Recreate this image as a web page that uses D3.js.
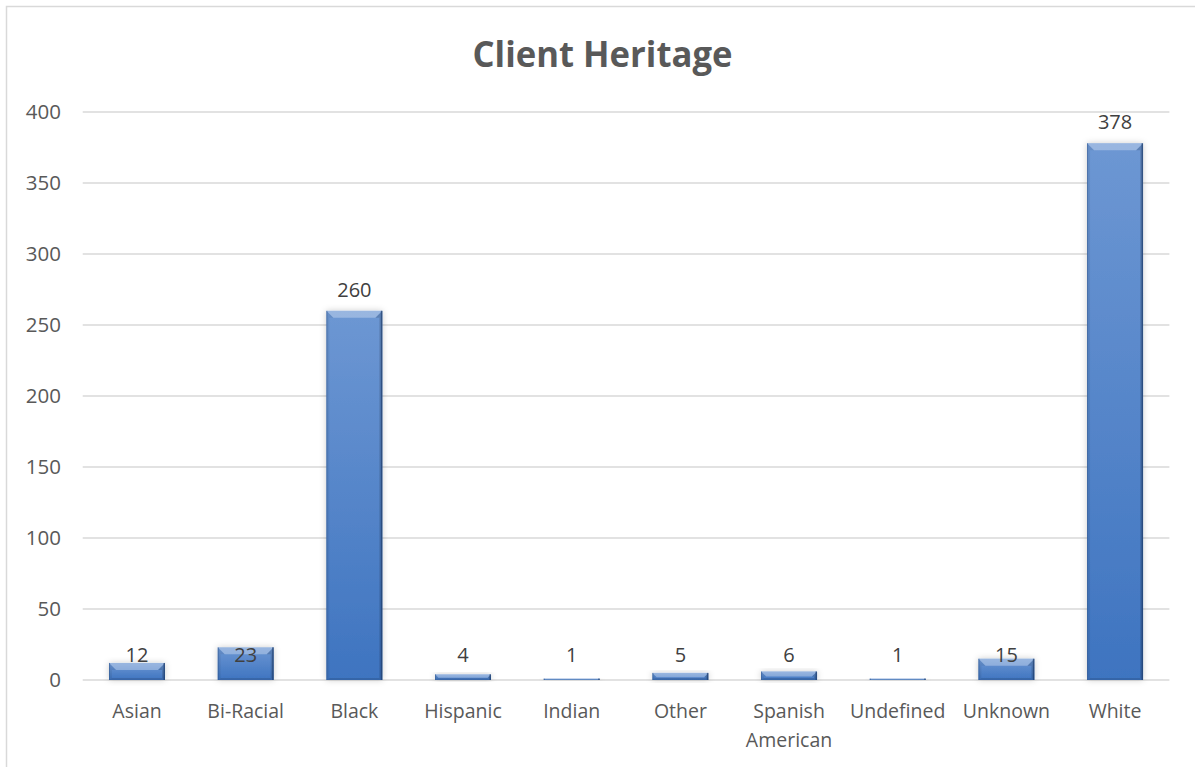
<!DOCTYPE html>
<html>
<head>
<meta charset="utf-8">
<script src="https://cdn.jsdelivr.net/npm/d3@7"></script>
<style>
body { margin: 0; background: #fff; }
</style>
</head>
<body>
<div id="chart"></div>
<script>
var categories = ["Asian", "Bi-Racial", "Black", "Hispanic", "Indian", "Other", "Spanish American", "Undefined", "Unknown", "White"]
var counts = [12, 23, 260, 4, 1, 5, 6, 1, 15, 378]
var yTicks = [0, 50, 100, 150, 200, 250, 300, 350, 400]

var wd = 1195
var ht = 767
var plotL = 82.7, plotR = 1169.4
var plotT = 112, plotB = 680
var txtCol = "#595959"
var font = "'Open Sans', sans-serif"

var svg = d3.select("#chart").append("svg")
  .attr("width", wd)
  .attr("height", ht)

var defs = svg.append("defs")
var grad = defs.append("linearGradient")
  .attr("id", "barGrad")
  .attr("x1", 0).attr("y1", 0).attr("x2", 0).attr("y2", 1)
grad.append("stop").attr("offset", "0%").attr("stop-color", "#6d97d3")
grad.append("stop").attr("offset", "100%").attr("stop-color", "#3e74c0")

var shadow = defs.append("filter").attr("id", "shadow")
  .attr("x", "-30%").attr("y", "-30%").attr("width", "160%").attr("height", "160%")
shadow.append("feDropShadow")
  .attr("dx", 0).attr("dy", 0)
  .attr("stdDeviation", 3)
  .attr("flood-color", "#000")
  .attr("flood-opacity", 0.2)

// chart frame
svg.append("rect")
  .attr("x", 6.5).attr("y", 6.5)
  .attr("width", 1250).attr("height", 850)
  .attr("fill", "none")
  .attr("stroke", "#d9d9d9")
  .attr("stroke-width", 1.5)

// title
svg.append("text")
  .attr("x", 602.5)
  .attr("y", 67)
  .attr("text-anchor", "middle")
  .attr("font-family", font)
  .attr("font-weight", "bold")
  .attr("font-size", 36)
  .attr("textLength", 260)
  .attr("lengthAdjust", "spacingAndGlyphs")
  .attr("fill", txtCol)
  .text("Client Heritage")

var x = d3.scaleBand()
  .domain(categories)
  .range([plotL, plotR])
  .paddingInner(0.485)
  .paddingOuter(0.2425)

var y = d3.scaleLinear()
  .domain([0, 400])
  .range([plotB, plotT])

// gridlines
svg.append("g").selectAll("line")
  .data(yTicks)
  .enter().append("line")
  .attr("x1", plotL).attr("x2", plotR)
  .attr("y1", function(d) { return y(d) }).attr("y2", function(d) { return y(d) })
  .attr("stroke", "#d9d9d9")
  .attr("stroke-width", 1.5)

// y axis labels
var yAxis = d3.axisLeft(y).tickValues(yTicks).tickSize(0).tickPadding(0)
var yAx = svg.append("g")
  .attr("transform", "translate(61,0)")
  .call(yAxis)
yAx.select(".domain").remove()
yAx.selectAll("text")
  .attr("font-family", font)
  .attr("font-size", 20.5)
  .attr("fill", txtCol)

// bars with bevel
var bars = svg.append("g").selectAll("g.bar")
  .data(counts)
  .enter().append("g")
  .attr("class", "bar")
  .attr("filter", "url(#shadow)")

function pts(a) { return a.map(function(p) { return p.join(",") }).join(" ") }

bars.each(function(d, i) {
  var g = d3.select(this)
  var x0 = x(categories[i]), x1 = x0 + x.bandwidth()
  var y0 = y(d), y1 = y(0)
  var h = y1 - y0
  var bt = Math.min(7, h * 0.6)   // top bevel
  var bs = Math.min(3, h * 0.4)   // side bevel
  var bb = Math.min(2, h * 0.3)   // bottom bevel
  g.append("rect")
    .attr("x", x0).attr("y", y0)
    .attr("width", x1 - x0).attr("height", h)
    .attr("fill", "url(#barGrad)")
  // top facet
  g.append("polygon")
    .attr("points", pts([[x0, y0], [x1, y0], [x1 - bt, y0 + bt], [x0 + bt, y0 + bt]]))
    .attr("fill", "#ffffff").attr("fill-opacity", 0.3)
  // left facet
  g.append("polygon")
    .attr("points", pts([[x0, y0], [x0 + bt, y0 + bt], [x0 + bs, y0 + bt], [x0 + bs, y1 - bb], [x0, y1]]))
    .attr("fill", "#000").attr("fill-opacity", 0.06)
  // right facet
  g.append("polygon")
    .attr("points", pts([[x1, y0], [x1 - bt, y0 + bt], [x1 - bs, y0 + bt], [x1 - bs, y1 - bb], [x1, y1]]))
    .attr("fill", "#000").attr("fill-opacity", 0.14)
  // bottom facet
  g.append("polygon")
    .attr("points", pts([[x0, y1], [x0 + bs, y1 - bb], [x1 - bs, y1 - bb], [x1, y1]]))
    .attr("fill", "#000").attr("fill-opacity", 0.12)
  // dark right edge
  g.append("line")
    .attr("x1", x1 - 0.75).attr("x2", x1 - 0.75)
    .attr("y1", y0).attr("y2", y1)
    .attr("stroke", "#1f3f6e").attr("stroke-width", 1.5).attr("stroke-opacity", 0.7)
  g.append("line")
    .attr("x1", x0 + 0.5).attr("x2", x0 + 0.5)
    .attr("y1", y0).attr("y2", y1)
    .attr("stroke", "#2a528a").attr("stroke-width", 1).attr("stroke-opacity", 0.5)
})

// value labels
svg.append("g").selectAll("text")
  .data(counts)
  .enter().append("text")
  .attr("x", function(d, i) { return x(categories[i]) + x.bandwidth() / 2 })
  .attr("y", function(d) { return d > 100 ? y(d) - 14 : y(0) - 18.5 })
  .attr("text-anchor", "middle")
  .attr("font-family", font)
  .attr("font-size", 20)
  .attr("fill", "#404040")
  .text(function(d) { return d })

// x axis labels
var xl = svg.append("g").selectAll("text")
  .data(categories)
  .enter().append("text")
  .attr("x", function(d) { return x(d) + x.bandwidth() / 2 })
  .attr("y", 717.5)
  .attr("text-anchor", "middle")
  .attr("font-family", font)
  .attr("font-size", 19.5)
  .attr("fill", txtCol)

xl.each(function(d) {
  var t = d3.select(this)
  var parts = d == "Spanish American" ? ["Spanish", "American"] : [d]
  parts.forEach(function(p, k) {
    t.append("tspan")
      .attr("x", t.attr("x"))
      .attr("dy", k == 0 ? 0 : 29)
      .text(p)
  })
})
</script>
</body>
</html>
